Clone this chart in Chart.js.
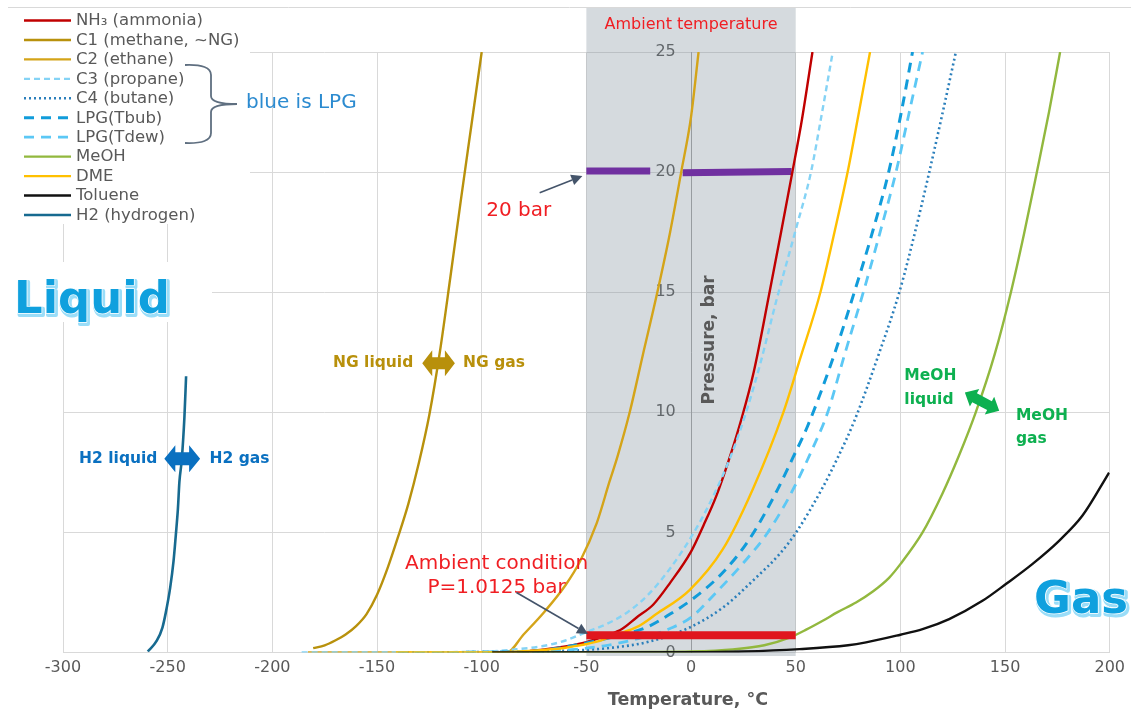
<!DOCTYPE html>
<html>
<head>
<meta charset="utf-8">
<script src="https://cdn.jsdelivr.net/npm/chart.js@4.4.1/dist/chart.umd.min.js"></script>
<style>
  html, body { margin: 0; padding: 0; background: #fff; }
  #grafico { display: block; }
</style>
</head>
<body>
<canvas id="grafico" width="1131" height="711"></canvas>
<script>
// DADOS - pressao de vapor (T em °C, P em bar)
const nh3T = [-77, -70, -60, -50, -40, -33, -26, -18, -10, 0, 6, 12, 18, 24, 30, 37.5, 43, 48.4, 53, 58];
const nh3P = [0.06, 0.13, 0.25, 0.43, 0.72, 0.98, 1.46, 2.0, 2.9, 4.2, 5.3, 6.5, 8.0, 9.7, 11.7, 15.0, 17.5, 20.0, 22.2, 25.0];

const c1T = [-180.5, -175, -170, -165, -160, -155, -150, -145, -140, -135, -130, -125, -120, -115, -110, -105, -100];
const c1P = [0.18, 0.3, 0.5, 0.75, 1.1, 1.6, 2.4, 3.5, 4.8, 6.2, 7.9, 9.9, 12.5, 15.6, 18.8, 21.9, 25.0];

const c2T = [-183, -88, -80, -70, -60, -53, -45, -39, -35, -29.3, -23, -16.1, -10, -4.7, 0, 3.6];
const c2P = [0, 0, 0.75, 1.7, 2.8, 3.8, 5.4, 7.1, 8.2, 10.0, 12.4, 15.0, 17.5, 20.0, 22.3, 25.0];

const c3T = [-186, -100, -85, -70, -60, -50, -40, -30, -20, -10, 0, 10, 20, 26.3, 33, 40.6, 50, 57.3, 62, 67.7];
const c3P = [0, 0.03, 0.12, 0.28, 0.5, 0.85, 1.2, 1.7, 2.45, 3.5, 4.8, 6.4, 8.4, 10.0, 12.0, 14.6, 17.6, 20.0, 22.2, 25.0];

const c4T = [-138, -60, -40, -20, -0.7, 15.2, 31.1, 42.2, 50.2, 62.9, 70, 78, 90, 99.5, 107, 113.8, 120, 126.5];
const c4P = [0, 0.07, 0.18, 0.45, 1.04, 1.87, 3.12, 4.09, 5.0, 6.87, 8.1, 9.64, 12.5, 15.0, 17.5, 20.0, 22.4, 25.0];

const tbubT = [-140, -90, -70, -50, -35, -21.4, -10, 1.7, 15.2, 27.9, 40.6, 48.6, 55.7, 68, 78, 86, 94.4, 100, 105.8];
const tbubP = [0, 0.02, 0.1, 0.4, 0.7, 1.04, 1.6, 2.29, 3.33, 4.72, 6.66, 8.1, 9.43, 12.3, 15.0, 17.3, 20.0, 22.3, 25.0];

const tdewT = [-140, -80, -60, -40, -20, -10, 0, 12, 24.7, 35.9, 43.8, 49.4, 58.1, 65.3, 73, 82.3, 90, 97.9, 104, 110.6];
const tdewP = [0, 0.03, 0.1, 0.3, 0.7, 1.0, 1.46, 2.5, 3.7, 4.9, 6.0, 6.9, 8.5, 10.0, 12.3, 15.0, 17.4, 20.0, 22.4, 25.0];

const meohT = [-97, -20, 0, 20, 35, 47, 55, 62.9, 70, 78.8, 87, 94.7, 100, 110.6, 120, 128, 136, 145, 152.8, 159, 165.2, 171, 176.3];
const meohP = [0, 0.02, 0.04, 0.13, 0.3, 0.62, 0.95, 1.32, 1.68, 2.08, 2.55, 3.12, 3.68, 5.0, 6.6, 8.2, 10.0, 12.4, 15.0, 17.4, 20.0, 22.5, 25.0];

const dmeT = [-141, -96, -80, -60, -45, -37.3, -25, -16.6, -0.7, 15.2, 29.5, 44.1, 52, 61.8, 68, 74.8, 80, 85.5];
const dmeP = [0, 0, 0.05, 0.2, 0.45, 0.7, 1.1, 1.6, 2.6, 4.3, 6.8, 10.0, 12.2, 15.0, 17.3, 20.0, 22.4, 25.0];

const toluT = [-95, 0, 25, 51.8, 75, 83.6, 100, 110.6, 123.3, 139.2, 150.4, 163, 175.8, 187, 199.7];
const toluP = [0, 0.01, 0.04, 0.14, 0.3, 0.42, 0.74, 0.97, 1.39, 2.15, 2.85, 3.68, 4.65, 5.7, 7.49];

const h2T = [-259.5, -255.2, -252.5, -250.9, -248.8, -247.2, -246.1, -245.1, -244.4, -243.3, -242.0, -241.2];
const h2P = [0.04, 0.49, 1.04, 1.66, 2.7, 3.8, 4.9, 6.0, 7.1, 8.0, 9.8, 11.5];

// faixas de destaque
const ambienteT = [-50, 50];           // temperatura ambiente
const ambienteP = [0.72, 0.72];        // barra vermelha (condicao ambiente)
const barra20aT = [-50, -19.5];
const barra20aP = [20.05, 20.05];
const barra20bT = [-4, 48];
const barra20bP = [19.97, 20.03];

// EIXOS
const eixoX = [-300, 200, 50];
const eixoY = [0, 25, 5];

const FONTE = '"DejaVu Sans", Verdana, sans-serif';
const CINZA = '#595959';

const series = [
    { label: 'NH₃ (ammonia)', T: nh3T, P: nh3P, cor: '#C00000', traco: [], esp: 2.4 },
    { label: 'C1 (methane, ~NG)', T: c1T, P: c1P, cor: '#B8910C', traco: [], esp: 2.4 },
    { label: 'C2 (ethane)', T: c2T, P: c2P, cor: '#D4A419', traco: [], esp: 2.4 },
    { label: 'C3 (propane)', T: c3T, P: c3P, cor: '#85D3F5', traco: [6, 4], esp: 2.4 },
    { label: 'C4 (butane)', T: c4T, P: c4P, cor: '#2B7FBB', traco: [2, 3], esp: 2.6 },
    { label: 'LPG(Tbub)', T: tbubT, P: tbubP, cor: '#119CDA', traco: [10, 7], esp: 3 },
    { label: 'LPG(Tdew)', T: tdewT, P: tdewP, cor: '#5CC8F5', traco: [10, 7], esp: 2.8 },
    { label: 'MeOH', T: meohT, P: meohP, cor: '#92B83E', traco: [], esp: 2.4 },
    { label: 'DME', T: dmeT, P: dmeP, cor: '#FFC000', traco: [], esp: 2.4 },
    { label: 'Toluene', T: toluT, P: toluP, cor: '#111111', traco: [], esp: 2.4 },
    { label: 'H2 (hydrogen)', T: h2T, P: h2P, cor: '#176A90', traco: [], esp: 2.6 }
];

function pontos(T, P) { return T.map((t, i) => ({ x: t, y: P[i] })); }

const datasets = series.map((s, i) => ({
    label: s.label,
    data: pontos(s.T, s.P),
    borderColor: s.cor,
    borderDash: s.traco,
    borderWidth: s.esp,
    showLine: true,
    pointRadius: 0,
    cubicInterpolationMode: 'monotone',
    order: -i,
    legenda: true
}));

datasets.push({ label: '20 bar a', data: pontos(barra20aT, barra20aP), borderColor: '#7030A0', borderWidth: 7, showLine: true, pointRadius: 0, order: 50 });
datasets.push({ label: '20 bar b', data: pontos(barra20bT, barra20bP), borderColor: '#7030A0', borderWidth: 7, showLine: true, pointRadius: 0, order: 50 });
datasets.push({ label: 'ambiente', data: pontos(ambienteT, ambienteP), borderColor: '#E0161E', borderWidth: 8, showLine: true, pointRadius: 0, order: -50 });

// FUNCOES DE DESENHO
function texto(ctx, s, x, y, fonte, cor, alinh) {
    ctx.font = fonte;
    ctx.fillStyle = cor;
    ctx.textAlign = alinh || 'left';
    ctx.textBaseline = 'middle';
    ctx.fillText(s, x, y);
}

function seta(ctx, x1, y1, x2, y2, cor) {
    const ang = Math.atan2(y2 - y1, x2 - x1);
    const cab = 11, meia = 5.5;
    ctx.save();
    ctx.strokeStyle = cor;
    ctx.fillStyle = cor;
    ctx.lineWidth = 1.6;
    ctx.beginPath();
    ctx.moveTo(x1, y1);
    ctx.lineTo(x2 - cab * Math.cos(ang), y2 - cab * Math.sin(ang));
    ctx.stroke();
    ctx.translate(x2, y2);
    ctx.rotate(ang);
    ctx.beginPath();
    ctx.moveTo(0, 0);
    ctx.lineTo(-cab, -meia);
    ctx.lineTo(-cab, meia);
    ctx.closePath();
    ctx.fill();
    ctx.restore();
}

function setaDupla(ctx, x1, y1, x2, y2, cab, meiaCab, meiaHaste, cor) {
    const ang = Math.atan2(y2 - y1, x2 - x1);
    const len = Math.hypot(x2 - x1, y2 - y1);
    ctx.save();
    ctx.translate(x1, y1);
    ctx.rotate(ang);
    ctx.beginPath();
    ctx.moveTo(0, 0);
    ctx.lineTo(cab, -meiaCab);
    ctx.lineTo(cab, -meiaHaste);
    ctx.lineTo(len - cab, -meiaHaste);
    ctx.lineTo(len - cab, -meiaCab);
    ctx.lineTo(len, 0);
    ctx.lineTo(len - cab, meiaCab);
    ctx.lineTo(len - cab, meiaHaste);
    ctx.lineTo(cab, meiaHaste);
    ctx.lineTo(cab, meiaCab);
    ctx.closePath();
    ctx.fillStyle = cor;
    ctx.fill();
    ctx.restore();
}

function textoGrande(ctx, s, x, y) {
    ctx.save();
    ctx.font = 'bold 45px ' + FONTE;
    ctx.textAlign = 'left';
    ctx.textBaseline = 'alphabetic';
    ctx.lineJoin = 'round';
    ctx.strokeStyle = '#9ADDF8';
    ctx.lineWidth = 4;
    ctx.strokeText(s, x + 1.5, y + 1.5);
    ctx.fillStyle = '#9ADDF8';
    ctx.fillText(s, x + 1.5, y + 1.5);
    ctx.strokeStyle = '#FFFFFF';
    ctx.lineWidth = 1.5;
    ctx.strokeText(s, x, y);
    ctx.fillStyle = '#0FA0DE';
    ctx.fillText(s, x, y);
    ctx.restore();
}

const anotacoes = {
    id: 'anotacoes',
    beforeDatasetsDraw(chart) {
        const ctx = chart.ctx;
        const sx = chart.scales.x, sy = chart.scales.y;
        // faixa de temperatura ambiente
        const xa = sx.getPixelForValue(ambienteT[0]);
        const xb = sx.getPixelForValue(ambienteT[1]);
        ctx.save();
        ctx.fillStyle = 'rgba(118, 134, 148, 0.31)';
        ctx.fillRect(xa, 8, xb - xa, sy.getPixelForValue(0) + 3.5 - 8);
        // fundo branco da legenda e do texto "Liquid"
        ctx.fillStyle = '#ffffff';
        ctx.fillRect(0, 9, 250, 215);
        ctx.fillRect(0, 262, 212, 60);
        ctx.restore();
    },
    afterDraw(chart) {
        const ctx = chart.ctx;
        const sx = chart.scales.x, sy = chart.scales.y;
        const px = v => sx.getPixelForValue(v);
        const py = v => sy.getPixelForValue(v);

        // borda superior
        ctx.save();
        ctx.strokeStyle = '#D9D9D9';
        ctx.lineWidth = 1;
        ctx.beginPath();
        ctx.moveTo(8, 7.5);
        ctx.lineTo(1131, 7.5);
        ctx.stroke();
        ctx.restore();

        // legenda
        chart.data.datasets.filter(d => d.legenda).forEach((d, i) => {
            const y = 20.5 + i * 19.45;
            ctx.save();
            ctx.strokeStyle = d.borderColor;
            ctx.lineWidth = d.borderWidth;
            ctx.setLineDash(d.borderDash || []);
            ctx.beginPath();
            ctx.moveTo(24, y);
            ctx.lineTo(71, y);
            ctx.stroke();
            ctx.restore();
            texto(ctx, d.label, 76, y + 0.5, '16.5px ' + FONTE, CINZA);
        });

        // chave "blue is LPG"
        ctx.save();
        ctx.strokeStyle = '#5F6F80';
        ctx.lineWidth = 1.8;
        ctx.beginPath();
        ctx.moveTo(185, 65);
        ctx.quadraticCurveTo(211, 64, 211, 75);
        ctx.lineTo(211, 96);
        ctx.quadraticCurveTo(211, 104, 237, 104);
        ctx.quadraticCurveTo(211, 104, 211, 112);
        ctx.lineTo(211, 133);
        ctx.quadraticCurveTo(211, 144, 185, 143);
        ctx.stroke();
        ctx.restore();
        texto(ctx, 'blue is LPG', 246, 103, '20px ' + FONTE, '#2C8BD0');

        // titulos dos eixos
        texto(ctx, 'Temperature, °C', px(-1.5), 700, 'bold 17.5px ' + FONTE, CINZA, 'center');
        ctx.save();
        ctx.translate(px(0) + 19, 340);
        ctx.rotate(-Math.PI / 2);
        texto(ctx, 'Pressure, bar', 0, 0, 'bold 17px ' + FONTE, CINZA, 'center');
        ctx.restore();

        // temperatura ambiente
        texto(ctx, 'Ambient temperature', px(0), 25, '16px ' + FONTE, '#F01E23', 'center');

        // 20 bar
        texto(ctx, '20 bar', px(-97.8), py(18.38), '20px ' + FONTE, '#F01E23');
        seta(ctx, px(-72.3), py(19.14), px(-51.9), py(19.84), '#44546A');

        // condicao ambiente
        texto(ctx, 'Ambient condition', px(-92.9), py(3.68), '20px ' + FONTE, '#F01E23', 'center');
        texto(ctx, 'P=1.0125 bar', px(-92.9), py(2.7), '20px ' + FONTE, '#F01E23', 'center');
        seta(ctx, px(-83.4), py(2.5), px(-49.2), py(0.77), '#44546A');

        // NG
        const ng = '#B8900B';
        texto(ctx, 'NG liquid', px(-132.7), py(12.04), 'bold 15.5px ' + FONTE, ng, 'right');
        texto(ctx, 'NG gas', px(-108.9), py(12.04), 'bold 15.5px ' + FONTE, ng);
        setaDupla(ctx, px(-128.4), py(12.04), px(-112.8), py(12.04), 10, 13, 6, ng);

        // H2
        const h2c = '#0A70C0';
        texto(ctx, 'H2 liquid', px(-254.9), py(8.07), 'bold 15.5px ' + FONTE, h2c, 'right');
        texto(ctx, 'H2 gas', px(-230), py(8.07), 'bold 15.5px ' + FONTE, h2c);
        setaDupla(ctx, px(-251.6), py(8.07), px(-234.5), py(8.07), 11, 13.5, 6.5, h2c);

        // MeOH
        const me = '#0DB050';
        texto(ctx, 'MeOH', px(101.9), py(11.52), 'bold 15.5px ' + FONTE, me);
        texto(ctx, 'liquid', px(101.9), py(10.5), 'bold 15.5px ' + FONTE, me);
        texto(ctx, 'MeOH', px(155.2), py(9.85), 'bold 15.5px ' + FONTE, me);
        texto(ctx, 'gas', px(155.2), py(8.88), 'bold 15.5px ' + FONTE, me);
        setaDupla(ctx, px(130.8), py(10.82), px(147.2), py(10.06), 11, 10, 5, me);

        // Liquid / Gas
        textoGrande(ctx, 'Liquid', 14, 313);
        textoGrande(ctx, 'Gas', 1034, 613);
    }
};

const fonteTicks = { family: '"DejaVu Sans", Verdana, sans-serif', size: 16 };

new Chart(document.getElementById('grafico'), {
    type: 'scatter',
    data: { datasets },
    options: {
        responsive: false,
        animation: false,
        devicePixelRatio: 1,
        layout: { padding: { left: 63, right: 21, top: 52, bottom: 27.3 } },
        plugins: { legend: { display: false }, tooltip: { enabled: false } },
        scales: {
            x: {
                type: 'linear', min: eixoX[0], max: eixoX[1],
                ticks: { stepSize: eixoX[2], color: CINZA, font: fonteTicks, padding: 6 },
                grid: { color: '#D9D9D9', drawTicks: false },
                border: { color: '#D9D9D9' }
            },
            y: {
                type: 'linear', min: eixoY[0], max: eixoY[1], position: { x: 0 },
                // rotulos ficam a esquerda do eixo, afastados por espacos
                ticks: { stepSize: eixoY[2], color: CINZA, font: fonteTicks, callback: v => v + '   ' },
                grid: { color: '#D9D9D9', drawTicks: false },
                border: { color: '#A6A6A6' }
            }
        }
    },
    plugins: [anotacoes]
});
</script>
</body>
</html>
